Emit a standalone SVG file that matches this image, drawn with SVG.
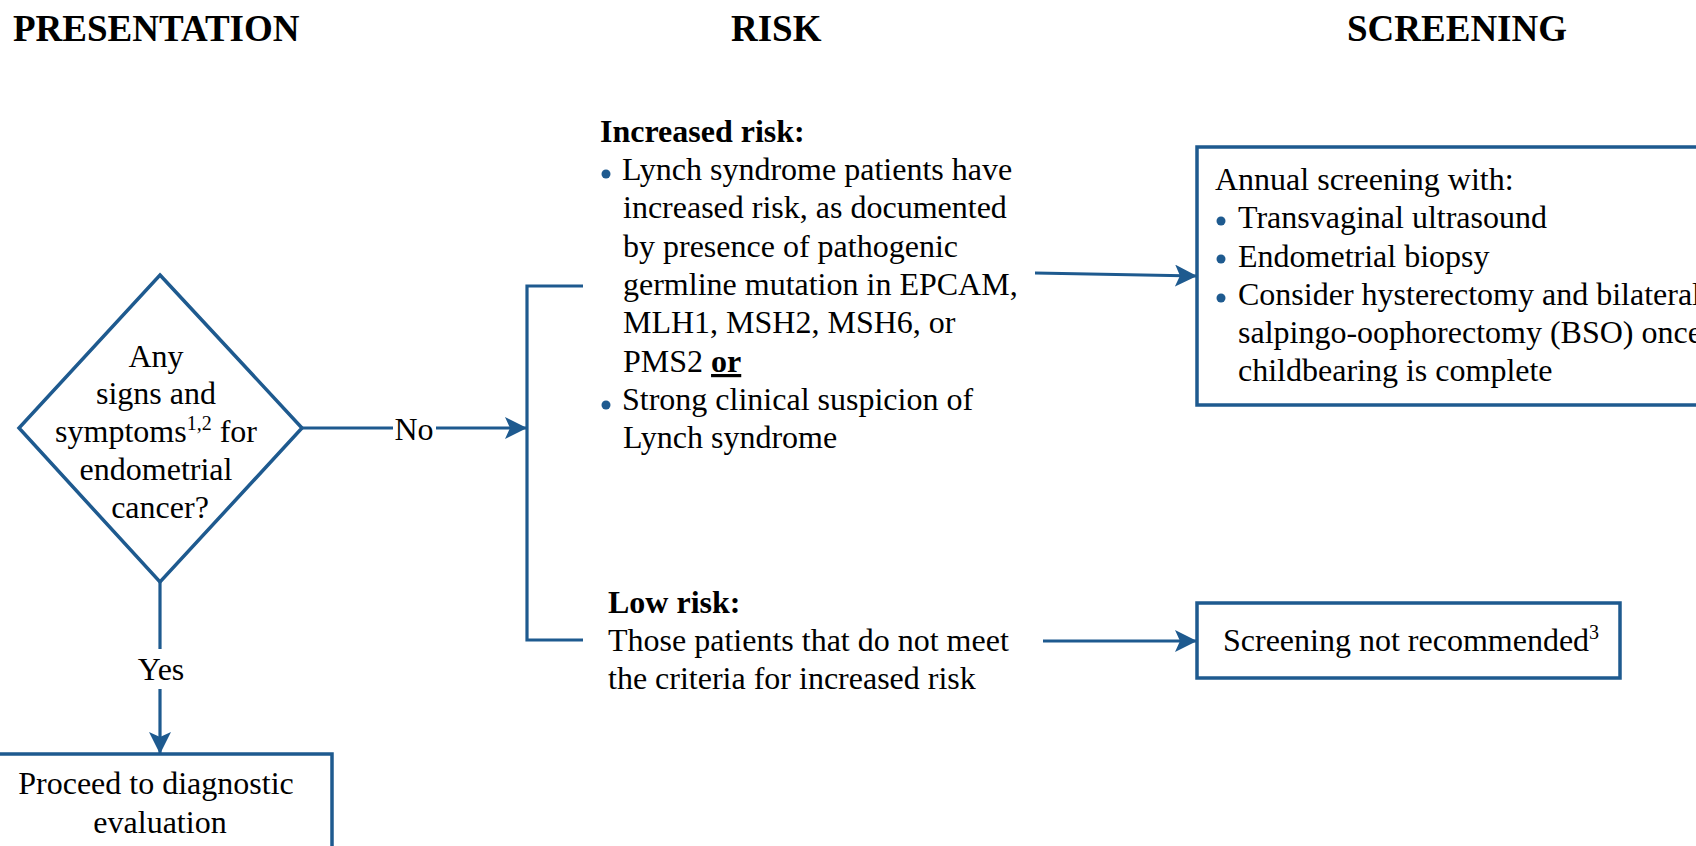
<svg xmlns="http://www.w3.org/2000/svg" width="1696" height="846" viewBox="0 0 1696 846">
<style>
  .hdr { font-family: "Liberation Serif", "Times New Roman", serif; font-weight: bold; font-size: 37px; fill: #000; }
  .t { font-family: "Liberation Serif", "Times New Roman", serif; font-size: 32px; fill: #000; }
  .b { font-weight: bold; }
  .ln { stroke: #1e5a8f; stroke-width: 3.2; fill: none; }
  .box { stroke: #1e5a8f; stroke-width: 3.5; fill: #fff; }
  .dot { fill: #1e5a8f; }
</style>
<defs>
  <marker id="arr" markerUnits="userSpaceOnUse" markerWidth="24" markerHeight="22" viewBox="0 0 24 22" refX="22" refY="11" orient="auto">
    <path d="M0,0 L22,11 L0,22 L5,11 Z" fill="#1e5a8f"/>
  </marker>
</defs>
<rect width="1696" height="846" fill="#fff"/>

<g id="headers">
  <text class="hdr" x="13" y="41">PRESENTATION</text>
  <text class="hdr" x="731" y="41">RISK</text>
  <text class="hdr" x="1347" y="41">SCREENING</text>
</g>

<g id="decision">
  <polygon class="box" points="160,275 302,428 160,582 19,428"/>
  <text class="t" text-anchor="middle">
    <tspan x="160" y="367">Any</tspan>
    <tspan x="160" y="404">signs and</tspan>
    <tspan x="160" y="442">symptoms<tspan font-size="20" dy="-12">1,2</tspan><tspan dy="12"> for</tspan></tspan>
    <tspan x="160" y="480">endometrial</tspan>
    <tspan x="160" y="518">cancer?</tspan>
  </text>
</g>

<g id="diagnostic">
  <rect class="box" x="-10" y="754" width="342" height="120"/>
  <text class="t" text-anchor="middle">
    <tspan x="160" y="794">Proceed to diagnostic</tspan>
    <tspan x="160" y="833">evaluation</tspan>
  </text>
</g>

<g id="increased-risk">
  <text class="t b" x="600" y="142">Increased risk:</text>
  <circle class="dot" cx="606" cy="174" r="4.5"/>
  <text class="t">
    <tspan x="622" y="180">Lynch syndrome patients have</tspan>
    <tspan x="623" y="218">increased risk, as documented</tspan>
    <tspan x="623" y="257">by presence of pathogenic</tspan>
    <tspan x="623" y="295">germline mutation in EPCAM,</tspan>
    <tspan x="623" y="333">MLH1, MSH2, MSH6, or</tspan>
    <tspan x="623" y="372">PMS2 <tspan font-weight="bold" text-decoration="underline">or</tspan></tspan>
  </text>
  <circle class="dot" cx="606" cy="405" r="4.5"/>
  <text class="t">
    <tspan x="622" y="410">Strong clinical suspicion of</tspan>
    <tspan x="623" y="448">Lynch syndrome</tspan>
  </text>
</g>

<g id="low-risk">
  <text class="t b" x="608" y="613">Low risk:</text>
  <text class="t">
    <tspan x="608" y="651">Those patients that do not meet</tspan>
    <tspan x="608" y="689">the criteria for increased risk</tspan>
  </text>
</g>

<g id="annual-screening">
  <rect class="box" x="1197" y="147" width="600" height="258"/>
  <text class="t" x="1215" y="190">Annual screening with:</text>
  <circle class="dot" cx="1221" cy="221" r="4.5"/>
  <circle class="dot" cx="1221" cy="259" r="4.5"/>
  <circle class="dot" cx="1221" cy="298" r="4.5"/>
  <text class="t">
    <tspan x="1238" y="228">Transvaginal ultrasound</tspan>
    <tspan x="1238" y="267">Endometrial biopsy</tspan>
    <tspan x="1238" y="305">Consider hysterectomy and bilateral</tspan>
    <tspan x="1238" y="343">salpingo-oophorectomy (BSO) once</tspan>
    <tspan x="1238" y="381">childbearing is complete</tspan>
  </text>
</g>

<g id="not-recommended">
  <rect class="box" x="1197" y="603" width="423" height="75"/>
  <text class="t" x="1223" y="651">Screening not recommended<tspan font-size="20" dy="-12">3</tspan></text>
</g>

<g id="connectors">
  <line class="ln" x1="302" y1="428" x2="393" y2="428"/>
  <text class="t" x="414" y="440" text-anchor="middle">No</text>
  <line class="ln" x1="436" y1="428" x2="527" y2="428" marker-end="url(#arr)"/>
  <polyline class="ln" points="583,286 527,286 527,640 583,640"/>
  <line class="ln" x1="160" y1="582" x2="160" y2="649"/>
  <text class="t" x="161" y="680" text-anchor="middle">Yes</text>
  <line class="ln" x1="160" y1="689" x2="160" y2="754" marker-end="url(#arr)"/>
  <line class="ln" x1="1035" y1="273" x2="1197" y2="276" marker-end="url(#arr)"/>
  <line class="ln" x1="1043" y1="641" x2="1197" y2="641" marker-end="url(#arr)"/>
</g>
</svg>
